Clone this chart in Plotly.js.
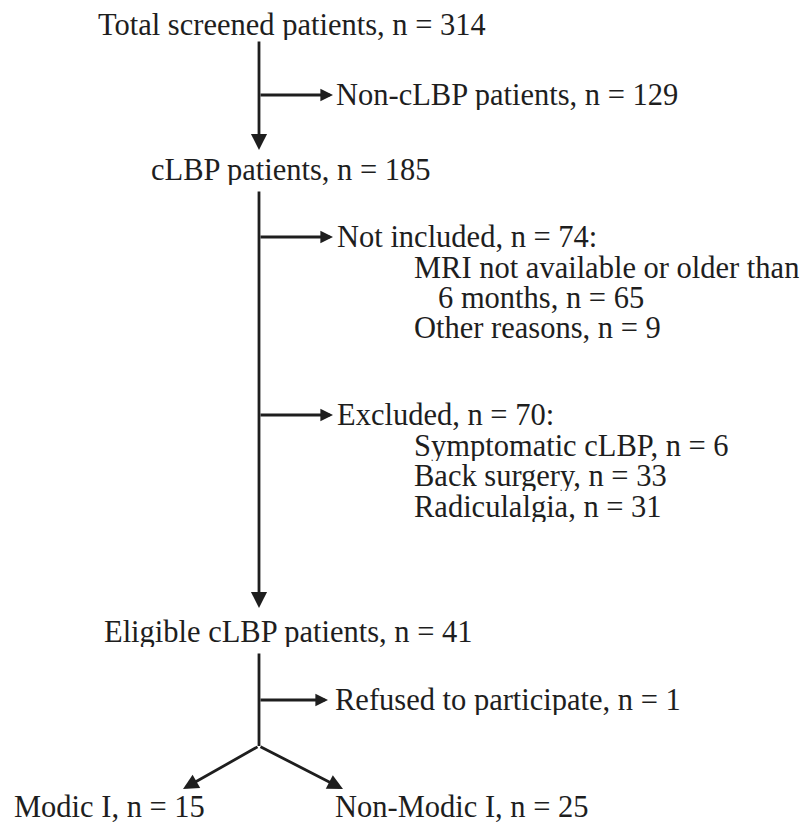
<!DOCTYPE html>
<html><head><meta charset="utf-8">
<script src="https://cdn.plot.ly/plotly-3.0.1.min.js"></script>
<style>html,body{margin:0;padding:0;background:#fff;}</style>
</head><body><div id="chart" style="width:805px;height:824px;"></div>
<script>
// ---- Data: flow stages and patient counts ----
const stageLabels = ["Total screened patients", "Non-cLBP patients", "cLBP patients",
  "Not included", "6 months", "Other reasons",
  "Excluded", "Symptomatic cLBP", "Back surgery", "Radiculalgia",
  "Eligible cLBP patients", "Refused to participate", "Modic I", "Non-Modic I"];
const stageCounts = [314, 129, 185, 74, 65, 9, 70, 6, 33, 31, 41, 1, 15, 25];
const stageSuffix = ["", "", "", ":", "", "", ":", "", "", "", "", "", "", ""];
const mriLinePrefix = "MRI not available or older than";

// ---- Layout positions (pixel space of the figure) ----
const textX = [97, 335, 150, 336, 437, 413, 336, 413, 413, 413, 103, 334, 13, 334];
const textY = [25, 95, 170, 237, 298, 328, 415, 446, 476, 507, 632, 700, 807, 807];
const mriLineX = 413, mriLineY = 268;

// arrows: tail (ax, ay) -> tip (x, y), head size
const arrTailX = [259, 259, 259, 259, 259, 259, 259, 259, 259];
const arrTailY = [40, 95, 190, 237, 415, 652, 700, 746, 746];
const arrTipX  = [259, 333, 259, 333, 333, 259, 328, 183, 343];
const arrTipY  = [150, 95, 608, 237, 415, 746, 700, 789, 789];
const arrHead  = [2, 2, 2, 2, 2, 0, 2, 2, 2];
const arrSize  = [1.15, 0.9, 1.15, 0.9, 0.9, 1, 0.9, 1.1, 1.1];

const ink = "#1e1e1e";
const font = {family: "'Liberation Serif'", size: 30.5, color: ink};

const annotations = [];
stageLabels.forEach((lab, i) => {
  annotations.push({
    x: textX[i], y: textY[i], xref: "x", yref: "y",
    text: lab + ", n = " + stageCounts[i] + stageSuffix[i],
    showarrow: false, xanchor: "left", yanchor: "middle", font: font,
    borderpad: 0, height: 30
  });
});
annotations.push({x: mriLineX, y: mriLineY, xref: "x", yref: "y", text: mriLinePrefix,
  showarrow: false, xanchor: "left", yanchor: "middle", font: font, borderpad: 0, height: 30});

arrTipX.forEach((x, i) => {
  annotations.push({
    x: x, y: arrTipY[i], ax: arrTailX[i], ay: arrTailY[i],
    xref: "x", yref: "y", axref: "x", ayref: "y",
    text: "", showarrow: true, arrowhead: arrHead[i], arrowsize: arrSize[i],
    arrowwidth: 2.8, arrowcolor: ink, standoff: 0, startstandoff: 0
  });
});

const layout = {
  width: 805, height: 824,
  margin: {l: 0, r: 0, t: 0, b: 0},
  paper_bgcolor: "#ffffff", plot_bgcolor: "#ffffff",
  font: font,
  xaxis: {range: [0, 805], visible: false, fixedrange: true},
  yaxis: {range: [824, 0], visible: false, fixedrange: true},
  showlegend: false,
  annotations: annotations
};

Plotly.newPlot("chart", [{x: [], y: [], type: "scatter", mode: "lines", hoverinfo: "skip"}], layout, {staticPlot: true});
</script>
</body></html>
